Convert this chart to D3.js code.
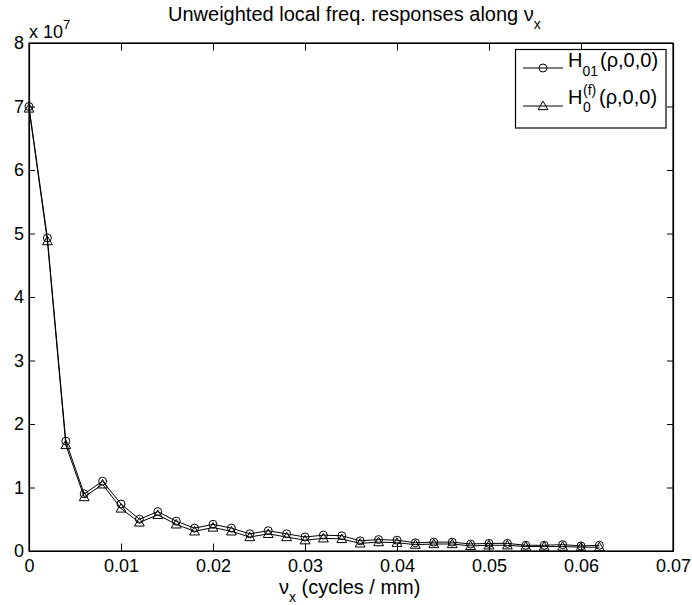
<!DOCTYPE html>
<html>
<head>
<meta charset="utf-8">
<script src="https://cdn.jsdelivr.net/npm/d3@7"></script>
<style>
  body { margin: 0; background: #fff; }
  svg text { font-family: "Liberation Sans", Arial, Helvetica, sans-serif; fill: #000; }
</style>
</head>
<body>
<div id="chart"></div>
<script>
(() => {

  // spatial frequency nu_x (cycles / mm)
  let freq = [0, 0.002, 0.004, 0.006, 0.008, 0.010, 0.012, 0.014, 0.016, 0.018,
    0.020, 0.022, 0.024, 0.026, 0.028, 0.030, 0.032, 0.034, 0.036, 0.038,
    0.040, 0.042, 0.044, 0.046, 0.048, 0.050, 0.052, 0.054, 0.056, 0.058,
    0.060, 0.062]

  // responses, in units of 1e7
  let h01 = [7.00, 4.93, 1.73, 0.90, 1.10, 0.74, 0.50, 0.62, 0.47, 0.36,
    0.42, 0.36, 0.27, 0.32, 0.27, 0.22, 0.25, 0.24, 0.16, 0.18,
    0.17, 0.13, 0.14, 0.14, 0.11, 0.12, 0.12, 0.09, 0.09, 0.10,
    0.08, 0.09]
  let h0f = [6.97, 4.88, 1.67, 0.85, 1.05, 0.67, 0.45, 0.57, 0.42, 0.31,
    0.37, 0.31, 0.22, 0.27, 0.22, 0.17, 0.20, 0.19, 0.12, 0.14,
    0.13, 0.10, 0.11, 0.11, 0.08, 0.09, 0.09, 0.07, 0.07, 0.07,
    0.06, 0.06]

  let xTicks = [0, 0.01, 0.02, 0.03, 0.04, 0.05, 0.06, 0.07]
  let yTicks = [0, 1, 2, 3, 4, 5, 6, 7, 8]

  let svg = d3.select("#chart")
  .append("svg")
  .attr("width", 692)
  .attr("height", 605)

  let margin = {top: 43, right: 19, bottom: 54, left: 29}
  let width = 692 - margin.left - margin.right
  let height = 605 - margin.top - margin.bottom

  let g = svg.append("g")
  .attr("transform", "translate(" + margin.left + "," + margin.top + ")")

  let x = d3.scaleLinear().domain([0, 0.07]).range([0, width])
  let y = d3.scaleLinear().domain([0, 8]).range([height, 0])

  // axes, matlab style: ticks pointing in on all four sides
  let fmtX = d => d === 0 ? "0" : d3.format(".2f")(d)

  let xAxis = g.append("g")
  .attr("transform", "translate(0," + height + ")")
  .call(d3.axisBottom(x).tickValues(xTicks).tickFormat(fmtX).tickSizeInner(-7.5).tickSizeOuter(0))
  let xTop = g.append("g")
  .call(d3.axisTop(x).tickValues(xTicks).tickFormat("").tickSizeInner(-7.5).tickSizeOuter(0))
  let yAxis = g.append("g")
  .call(d3.axisLeft(y).tickValues(yTicks).tickSizeInner(-6).tickSizeOuter(0))
  let yRight = g.append("g")
  .attr("transform", "translate(" + width + ",0)")
  .call(d3.axisRight(y).tickValues(yTicks).tickFormat("").tickSizeInner(-6).tickSizeOuter(0))

  g.selectAll(".domain").attr("stroke", "#000").attr("stroke-width", 1.2)
  g.selectAll(".tick line").attr("stroke", "#000")
  g.selectAll(".tick text").style("font-size", "18px").attr("fill", "#000")
  yAxis.selectAll(".tick text").attr("x", -5)
  xAxis.selectAll(".tick text").attr("dy", "0.71em").attr("y", 8)

  // plot box
  g.append("rect")
  .attr("width", width)
  .attr("height", height)
  .attr("fill", "none")
  .attr("stroke", "#000")
  .attr("stroke-width", 1.2)

  let series = [
    {name: "h01", vals: h01, marker: "circle"},
    {name: "h0f", vals: h0f, marker: "triangle"}
  ]

  let line = d3.line()
  .x(d => x(d[0]))
  .y(d => y(d[1]))

  let circleSym = d3.symbol().type(d3.symbolCircle).size(50)
  let triSym = d3.symbol().type(d3.symbolTriangle).size(42)

  series.forEach(s => {
    let pts = freq.map((f, i) => [f, s.vals[i]])
    g.append("path")
    .datum(pts)
    .attr("d", line)
    .attr("fill", "none")
    .attr("stroke", "#000")
    .attr("stroke-width", 1)

    g.selectAll(".mk_" + s.name)
    .data(pts)
    .enter()
    .append("path")
    .attr("class", "mk_" + s.name)
    .attr("transform", d => "translate(" + x(d[0]) + "," + (y(d[1]) + (s.marker == "triangle" ? 0.8 : 0)) + ")")
    .attr("d", s.marker == "circle" ? circleSym : triSym)
    .attr("fill", "none")
    .attr("stroke", "#000")
    .attr("stroke-width", 1)
  })

  // exponent label
  let ex = svg.append("text")
  .attr("x", 29)
  .attr("y", 38)
  .style("font-size", "18px")
  ex.append("tspan").text("x 10")
  ex.append("tspan").attr("dy", -9).style("font-size", "13px").text("7")

  // title
  let title = svg.append("text")
  .attr("x", 168)
  .attr("y", 21)
  .style("font-size", "20px")
  title.append("tspan").text("Unweighted local freq. responses along \u03bd")
  title.append("tspan").attr("dy", 8).style("font-size", "14px").text("x")

  // x label
  let xl = svg.append("text")
  .attr("x", 279)
  .attr("y", 594)
  .style("font-size", "20px")
  xl.append("tspan").text("\u03bd")
  xl.append("tspan").attr("dy", 8).style("font-size", "14px").text("x")
  xl.append("tspan").attr("dy", -8).text(" (cycles / mm)")

  // legend
  let lg = svg.append("g")
  lg.append("rect")
  .attr("x", 515.5)
  .attr("y", 49.5)
  .attr("width", 150.5)
  .attr("height", 78.5)
  .attr("fill", "#fff")
  .attr("stroke", "#000")
  .attr("stroke-width", 1.2)

  let rowY = [68, 106]
  series.forEach((s, i) => {
    lg.append("line")
    .attr("x1", 523).attr("x2", 563)
    .attr("y1", rowY[i]).attr("y2", rowY[i])
    .attr("stroke", "#000")
    lg.append("path")
    .attr("transform", "translate(543," + (rowY[i] + (i == 1 ? 0.8 : 0)) + ")")
    .attr("d", s.marker == "circle" ? circleSym : triSym)
    .attr("fill", "none")
    .attr("stroke", "#000")
  })

  let t1 = lg.append("text").attr("x", 568).attr("y", 67).style("font-size", "20px")
  t1.append("tspan").text("H")
  t1.append("tspan").attr("dy", 9).style("font-size", "14px").text("01")
  t1.append("tspan").attr("x", 600).attr("dy", -9).text("(\u03c1,0,0)")

  lg.append("text").attr("x", 568).attr("y", 104).style("font-size", "20px").text("H")
  lg.append("text").attr("x", 583).attr("y", 95).style("font-size", "14px").text("(f)")
  lg.append("text").attr("x", 583).attr("y", 112).style("font-size", "14px").text("0")
  lg.append("text").attr("x", 599).attr("y", 104).style("font-size", "20px").text("(\u03c1,0,0)")

})()
</script>
</body>
</html>
